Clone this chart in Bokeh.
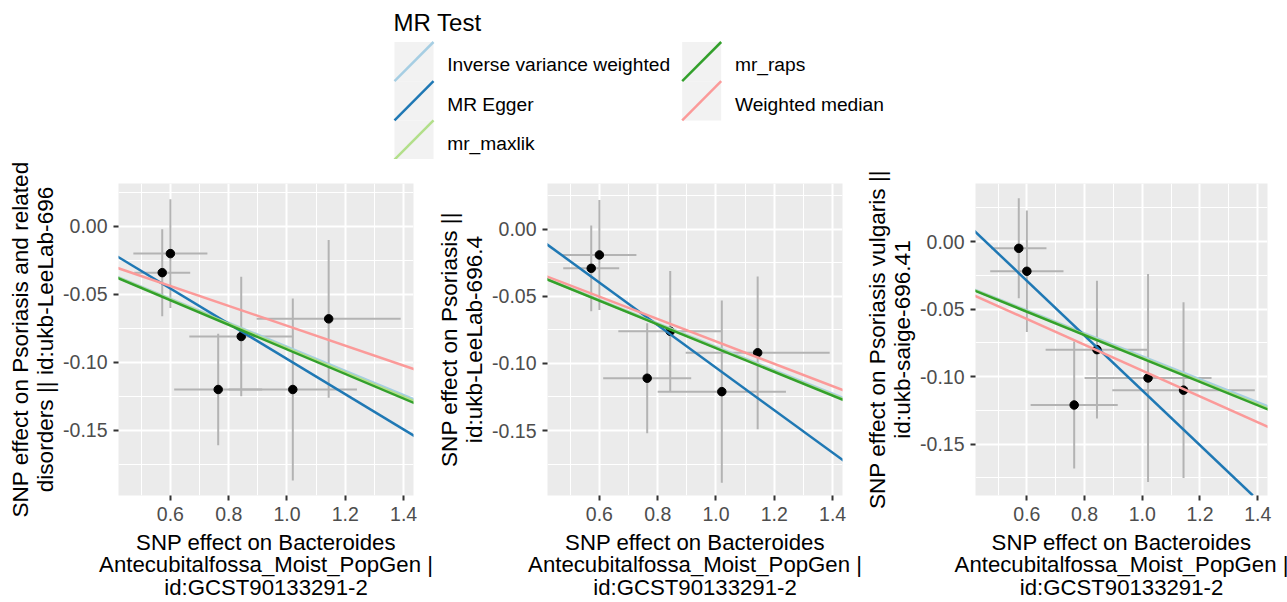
from bokeh.plotting import figure
from bokeh.models import Range1d, FixedTicker, NumeralTickFormatter, Slope, ColumnDataSource
from bokeh.layouts import column, row
from bokeh.embed import file_html
from bokeh.resources import INLINE
from bokeh.core.properties import value

# ---------------- data ----------------
exposure_beta = [0.572, 0.600, 0.764, 0.843, 1.020, 1.143]
exposure_se = [0.096, 0.127, 0.151, 0.178, 0.220, 0.247]

outcome_names = [
    "SNP effect on Psoriasis and related\ndisorders || id:ukb-LeeLab-696",
    "SNP effect on Psoriasis ||\nid:ukb-LeeLab-696.4",
    "SNP effect on Psoriasis vulgaris ||\nid:ukb-saige-696.41",
]
outcome1_beta = [-0.034, -0.020, -0.120, -0.081, -0.120, -0.068]
outcome1_se = [0.032, 0.040, 0.041, 0.044, 0.067, 0.058]
outcome2_beta = [-0.029, -0.019, -0.111, -0.076, -0.121, -0.092]
outcome2_se = [0.032, 0.041, 0.041, 0.045, 0.068, 0.057]
outcome3_beta = [-0.005, -0.022, -0.121, -0.080, -0.101, -0.110]
outcome3_se = [0.037, 0.045, 0.047, 0.051, 0.077, 0.065]

methods = ["Inverse variance weighted", "MR Egger", "mr_maxlik", "mr_raps", "Weighted median"]
method_colors = ["#A6CEE3", "#1F78B4", "#B2DF8A", "#33A02C", "#FB9A99"]
# intercepts and slopes per outcome, in method order
intercepts1 = [0.0, 0.0321, 0.0, 0.0, 0.0]
slopes1 = [-0.0886, -0.1296, -0.0895, -0.0905, -0.0731]
intercepts2 = [0.0, 0.0556, 0.0, 0.0, 0.0]
slopes2 = [-0.0875, -0.1587, -0.0882, -0.0886, -0.0835]
intercepts3 = [0.0, 0.0928, 0.0, 0.0, 0.0]
slopes3 = [-0.0850, -0.2030, -0.0860, -0.0866, -0.0955]

x_ticks = [0.6, 0.8, 1.0, 1.2, 1.4]
y_ticks = [0.0, -0.05, -0.10, -0.15]
x_title = "SNP effect on Bacteroides\nAntecubitalfossa_Moist_PopGen |\nid:GCST90133291-2"
legend_title = "MR Test"

x_lim = (0.422, 1.434)
y_lims = [(-0.198, 0.0316), (-0.1985, 0.0343), (-0.188, 0.043)]

FONT = "Liberation Sans"
PANEL_H = 443

# ---------------- panels ----------------
def make_panel(width, bl, br, beta, se, ylab, ylim, icpts, slps):
    p = figure(width=width, height=PANEL_H, x_range=Range1d(*x_lim), y_range=Range1d(*ylim),
               output_backend="svg", toolbar_location=None,
               min_border_left=bl, min_border_right=br, min_border_top=24, min_border_bottom=107,
               background_fill_color="#EBEBEB", border_fill_color="white", outline_line_color=None)
    xminor = [t - 0.1 for t in x_ticks] + [x_ticks[-1] + 0.1]
    yminor = [t + 0.025 for t in y_ticks] + [y_ticks[-1] - 0.025]
    p.xaxis.ticker = FixedTicker(ticks=x_ticks, minor_ticks=xminor)
    p.yaxis.ticker = FixedTicker(ticks=y_ticks, minor_ticks=yminor)
    p.xaxis.formatter = NumeralTickFormatter(format="0.0")
    p.yaxis.formatter = NumeralTickFormatter(format="0.00")
    for g in (p.xgrid, p.ygrid):
        g.grid_line_color = "white"
        g.grid_line_width = 2
        g.minor_grid_line_color = "white"
        g.minor_grid_line_width = 1
    for ax in (p.xaxis, p.yaxis):
        ax.axis_line_color = None
        ax.major_tick_line_color = "#333333"
        ax.major_tick_line_width = 2
        ax.major_tick_out = 5
        ax.major_tick_in = 0
        ax.minor_tick_line_color = None
        ax.major_label_text_font = FONT
        ax.major_label_text_font_size = "19.5px"
        ax.major_label_text_color = "#4D4D4D"
        ax.major_label_standoff = 6
        ax.axis_label_text_font = FONT
        ax.axis_label_text_font_style = "normal"
        ax.axis_label_text_color = "black"
    p.xaxis.axis_label = x_title
    p.xaxis.axis_label_text_font_size = "22.2px"
    p.xaxis.axis_label_standoff = 6
    p.xaxis.axis_label_text_line_height = 0.9
    p.yaxis.axis_label = ylab
    p.yaxis.axis_label_text_font_size = "22.6px"
    p.yaxis.axis_label_standoff = 2
    p.yaxis.axis_label_text_line_height = 0.99

    # error bars
    xs = exposure_beta
    src = ColumnDataSource(dict(
        x=xs, y=beta,
        xl=[a - b for a, b in zip(xs, exposure_se)], xh=[a + b for a, b in zip(xs, exposure_se)],
        yl=[a - b for a, b in zip(beta, se)], yh=[a + b for a, b in zip(beta, se)],
    ))
    p.segment(x0="x", x1="x", y0="yl", y1="yh", source=src, line_color="#B3B3B3", line_width=2)
    p.segment(x0="xl", x1="xh", y0="y", y1="y", source=src, line_color="#B3B3B3", line_width=2)
    for m, c, a, b in zip(methods, method_colors, icpts, slps):
        p.add_layout(Slope(gradient=b, y_intercept=a, line_color=c, line_width=2.5))
    p.scatter(x="x", y="y", source=src, size=8.5, color="black")
    return p

p1 = make_panel(434, 118, 21, outcome1_beta, outcome1_se, outcome_names[0], y_lims[0], intercepts1, slopes1)
p2 = make_panel(428, 113, 20, outcome2_beta, outcome2_se, outcome_names[1], y_lims[1], intercepts2, slopes2)
p3 = make_panel(425, 110, 20, outcome3_beta, outcome3_se, outcome_names[2], y_lims[2], intercepts3, slopes3)

# ---------------- legend ----------------
L_W, L_H = 1287, 159
leg = figure(width=L_W, height=L_H, x_range=Range1d(0, L_W), y_range=Range1d(L_H, 0),
             output_backend="svg", toolbar_location=None, min_border=0,
             outline_line_color=None, background_fill_color="white", border_fill_color="white")
leg.axis.visible = False
leg.grid.visible = False

key_w, key_h = 39, 39.2
col_x = [394, 681.7]
row_y = [41.5, 80.7, 119.9]
lab_dx = 52.7
pos = [(0, 0), (0, 1), (0, 2), (1, 0), (1, 1)]
kx0 = [col_x[c] for c, r in pos]
ky0 = [row_y[r] for c, r in pos]
ksrc = ColumnDataSource(dict(
    x0=kx0, x1=[v + key_w for v in kx0], y0=ky0, y1=[v + key_h for v in ky0],
    xc=[v + key_w / 2 for v in kx0], yc=[v + key_h / 2 for v in ky0],
    lx=[v + lab_dx for v in kx0], ly=[v + key_h / 2 + 3.3 for v in ky0],
    color=method_colors, label=methods))
leg.rect(x="xc", y="yc", width=key_w, height=key_h, source=ksrc, fill_color="#F2F2F2", line_color=None)
leg.segment(x0="x0", y0="y1", x1="x1", y1="y0", source=ksrc, line_color="color", line_width=2.5)
leg.text(x="lx", y="ly", text="label", source=ksrc, text_font=value(FONT), text_font_size="19.2px",
         text_baseline="middle", text_align="left", text_color="black")
leg.text(x=[393], y=[22], text=[legend_title], text_font=value(FONT), text_font_size="24px",
         text_baseline="middle", text_align="left", text_color="black")

layout = column(leg, row(p1, p2, p3))
open("out.html", "w").write(file_html(layout, INLINE))
